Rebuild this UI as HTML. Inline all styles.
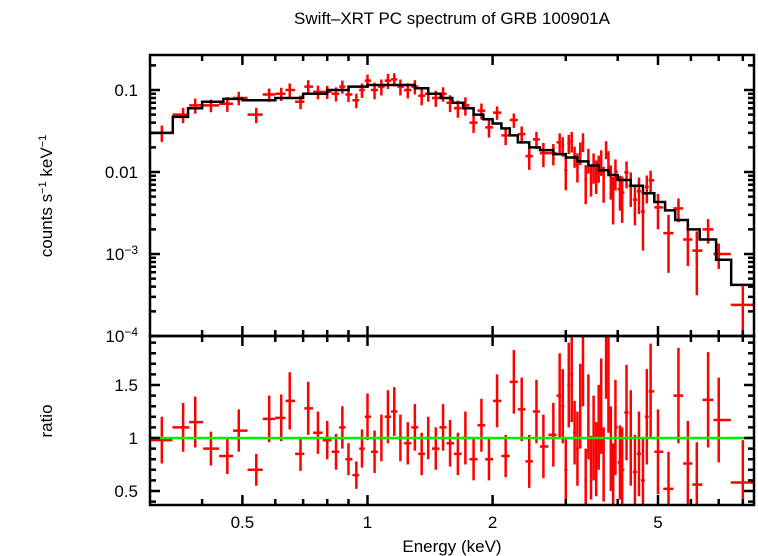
<!DOCTYPE html>
<html><head><meta charset="utf-8"><style>
html,body{margin:0;padding:0;background:#fff;}
svg{display:block;font-family:"Liberation Sans",sans-serif;}
</style></head><body>
<svg id="c" width="758" height="556" viewBox="0 0 758 556" xmlns="http://www.w3.org/2000/svg">
<text x="452" y="24" font-size="17" text-anchor="middle">Swift–XRT PC spectrum of GRB 100901A</text>
<text transform="translate(52,196) rotate(-90)" font-size="17" text-anchor="middle">counts s<tspan dy="-6" font-size="11">−1</tspan><tspan dy="6"> keV</tspan><tspan dy="-6" font-size="11">−1</tspan></text>
<text transform="translate(52,421) rotate(-90)" font-size="17" text-anchor="middle">ratio</text>
<text x="452" y="552" font-size="17" text-anchor="middle">Energy (keV)</text>
<g id="g"></g>
</svg>
<script>
const energies=[0.32,0.36,0.385,0.42,0.46,0.49,0.54,0.58,0.62,0.65,0.69,0.72,0.76,0.80,0.84,0.87,0.90,0.94,0.97,1.0,1.04,1.08,1.12,1.16,1.2,1.25,1.3,1.35,1.4,1.46,1.52,1.58,1.65,1.72,1.8,1.88,1.96,2.05,2.15,2.25,2.35,2.45,2.55,2.65,2.8,2.9,2.95,3.0,3.05,3.1,3.15,3.2,3.25,3.3,3.35,3.4,3.45,3.5,3.55,3.6,3.65,3.7,3.75,3.8,3.85,3.9,3.95,4.05,4.1,4.2,4.3,4.4,4.5,4.6,4.7,4.8,5.0,5.3,5.6,5.9,6.2,6.6,7.0,8.0];
const counts=[0.03,0.05,0.065,0.065,0.068,0.08,0.05,0.088,0.09,0.1,0.072,0.11,0.095,0.095,0.09,0.11,0.088,0.075,0.1,0.13,0.1,0.11,0.13,0.135,0.11,0.1,0.11,0.085,0.09,0.08,0.09,0.07,0.06,0.065,0.04,0.056,0.035,0.053,0.028,0.043,0.029,0.0156,0.025,0.017,0.017,0.023,0.021,0.0105,0.0225,0.024,0.0158,0.0122,0.0175,0.0236,0.0081,0.0144,0.0086,0.012,0.0096,0.0116,0.0137,0.0079,0.019,0.0138,0.0083,0.0055,0.0101,0.0062,0.0056,0.0099,0.0068,0.0046,0.0058,0.0033,0.0066,0.0079,0.0037,0.0018,0.0036,0.0015,0.0011,0.002,0.001,0.00024];
const ratios=[0.98,1.1,1.15,0.9,0.83,1.07,0.7,1.18,1.19,1.35,0.85,1.28,1.05,0.98,0.87,1.1,0.8,0.65,0.9,1.2,0.87,1.0,1.2,1.25,1.0,0.95,1.1,0.85,1.0,0.9,1.1,0.95,0.85,1.0,0.8,1.12,0.8,1.35,0.83,1.53,1.27,0.78,1.25,0.92,1.03,1.4,1.3,0.7,1.5,1.6,1.05,0.9,1.3,1.75,0.6,1.2,0.72,1.0,0.8,1.1,1.3,0.75,1.82,1.5,0.9,0.6,1.1,0.77,0.7,1.24,1.0,0.68,0.85,0.6,1.2,1.44,0.87,0.52,1.4,0.76,0.56,1.36,1.17,0.58];
const ratioErr=[0.22,0.23,0.24,0.16,0.17,0.2,0.15,0.22,0.22,0.27,0.16,0.25,0.2,0.18,0.17,0.2,0.15,0.13,0.18,0.22,0.2,0.22,0.25,0.23,0.22,0.2,0.22,0.2,0.2,0.2,0.22,0.22,0.2,0.25,0.2,0.25,0.2,0.25,0.2,0.3,0.3,0.25,0.3,0.3,0.3,0.4,0.35,0.3,0.4,0.45,0.3,0.35,0.4,0.45,0.3,0.4,0.3,0.4,0.35,0.4,0.45,0.35,0.45,0.45,0.4,0.35,0.45,0.35,0.4,0.45,0.45,0.35,0.4,0.4,0.45,0.45,0.4,0.35,0.45,0.4,0.4,0.45,0.4,0.4];
const modelEdges=[0.30,0.34,0.37,0.40,0.45,0.50,0.60,0.70,0.80,0.90,1.0,1.15,1.3,1.4,1.5,1.6,1.7,1.8,1.9,2.0,2.1,2.2,2.3,2.45,2.6,2.8,3.0,3.2,3.4,3.6,3.8,4.0,4.3,4.6,4.9,5.2,5.5,5.9,6.3,6.9,7.5,8.5];
const modelVals=[0.03,0.047,0.06,0.072,0.078,0.075,0.08,0.09,0.1,0.11,0.115,0.115,0.105,0.09,0.08,0.07,0.06,0.05,0.044,0.039,0.034,0.028,0.023,0.02,0.0185,0.0165,0.015,0.0135,0.012,0.0105,0.0092,0.008,0.0068,0.0055,0.0043,0.0034,0.0026,0.002,0.0015,0.00085,0.00042];
const xTickMajor=[0.5,1,2,5];
const xTickLabels=["0.5","1","2","5"];
const yTopLabels=[["0.1",-1],["0.01",-2],["10",-3],["10",-4]];
const yBotTicks=[0.5,1,1.5];
const yBotLabels=["0.5","1","1.5"];

const L=150,R=754,T=55,M=336,B=505;
const X=e=>367.5+415.6*Math.log10(e);
const YT=v=>90-82*(Math.log10(v)+1);
const YB=r=>438-106*(r-1);
const g=document.getElementById('g');
const NS='http://www.w3.org/2000/svg';
function mk(t,a,p){const e=document.createElementNS(NS,t);for(const k in a)e.setAttribute(k,a[k]);(p||g).appendChild(e);return e;}
const defs=mk('defs',{});
const c1=mk('clipPath',{id:'ct'},defs);mk('rect',{x:L,y:T,width:R-L,height:M-T},c1);
const c2=mk('clipPath',{id:'cb'},defs);mk('rect',{x:L,y:M,width:R-L,height:B-M},c2);
const gt=mk('g',{'clip-path':'url(#ct)'});


const gb=mk('g',{'clip-path':'url(#cb)'});


const n=Math.min(energies.length,counts.length,ratios.length,ratioErr.length);
for(let i=0;i<n;i++){
  const e=energies[i];
  const lo=i>0?Math.sqrt(energies[i-1]*e):e*e/Math.sqrt(e*energies[1]);
  const hi=i<n-1?Math.sqrt(energies[i+1]*e):8.5;
  const f=ratioErr[i]/ratios[i];
  const c=counts[i];
  const a=mk('path',{d:`M${X(lo)},${YT(c)}H${X(hi)}M${X(e)},${YT(c*(1+f))}V${YT(Math.max(c*(1-f),1e-5))}`,stroke:'#ff0000','stroke-width':2.5,fill:'none'},gt);
  
  
  const r=ratios[i],er=ratioErr[i];
  const b=mk('path',{d:`M${X(lo)},${YB(r)}H${X(hi)}M${X(e)},${YB(r+er)}V${YB(r-er)}`,stroke:'#ff0000','stroke-width':2.5,fill:'none'},gb);
  
  
}
const ul=mk('line',{x1:L,x2:R,y1:YB(1),y2:YB(1),stroke:'#00ee00','stroke-width':2.5},gb);


let d='';
for(let i=0;i<modelVals.length;i++){
  const y=YT(modelVals[i]);
  d+=(i===0?`M${X(modelEdges[0])},${y}`:`V${y}`)+`H${X(modelEdges[i+1])}`;
}
const mp=mk('path',{d:d,stroke:'#000',fill:'none','stroke-width':2.5},gt);


const f1=mk('rect',{x:L,y:T,width:R-L,height:M-T,fill:'none',stroke:'#000','stroke-width':2.5});


const f2=mk('rect',{x:L,y:M,width:R-L,height:B-M,fill:'none',stroke:'#000','stroke-width':2.5});


let td='';
const xs=[0.4,0.5,0.6,0.7,0.8,0.9,1,2,3,4,5,6,7,8];
xs.forEach(v=>{const x=X(v);const len=xTickMajor.includes(v)?10:6;
  [T,M,B].forEach(y0=>{td+=`M${x},${y0}v${y0===T?len:-len}`;});
  td+=`M${x},${M}v${len}`;});
for(let dec=-4;dec<=-1;dec++){for(let k=1;k<=9;k++){const v=k*Math.pow(10,dec);const y=YT(v);if(y<T||y>M)continue;const len=k===1?10:6;td+=`M${L},${y}h${len}M${R},${y}h${-len}`;}}
for(let r=0.4;r<=1.95;r+=0.1){const y=YB(r);if(y<M||y>B)continue;const maj=Math.abs(r*2-Math.round(r*2))<0.01;const len=maj?10:6;td+=`M${L},${y}h${len}M${R},${y}h${-len}`;}
const tk=mk('path',{d:td,stroke:'#000','stroke-width':2.5,fill:'none'});


xTickMajor.forEach((v,i)=>{const t=mk('text',{x:X(v),y:528,'font-size':17,'text-anchor':'middle'});t.textContent=xTickLabels[i];
  
  });
yTopLabels.forEach(([s,p])=>{const y=YT(Math.pow(10,p))+6;const t=mk('text',{x:138,y:y,'font-size':17,'text-anchor':'end'});
  
  
  t.textContent=s;if(p<-2){const sp=mk('tspan',{dy:-6,'font-size':12},t);sp.textContent='−'+(-p);}});
yBotTicks.forEach((v,i)=>{const t=mk('text',{x:138,y:YB(v)+6,'font-size':17,'text-anchor':'end'});t.textContent=yBotLabels[i];
  
  });
</script>
</body></html>
